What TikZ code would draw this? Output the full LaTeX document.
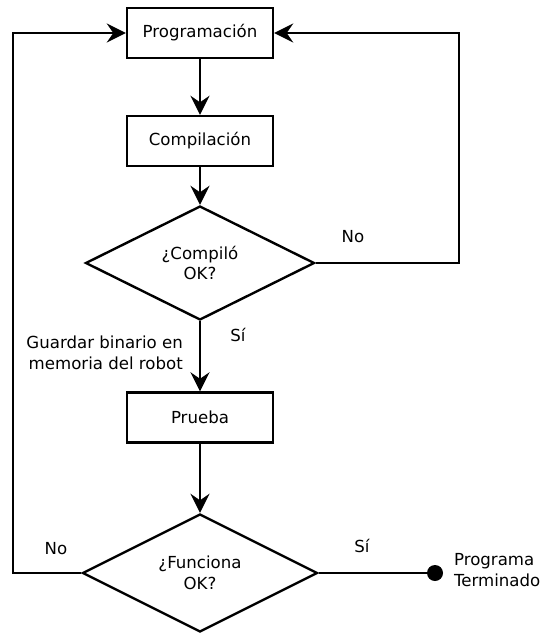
\documentclass[tikz,border=0pt]{standalone}
\usepackage{fontspec}
\setmainfont{DejaVu Sans}
\usetikzlibrary{shapes.geometric,arrows.meta}
\begin{document}
\begin{tikzpicture}[x=1pt,y=-1pt,
  every node/.style={font=\fontsize{16.6}{20.5}\selectfont},
  procbox/.style={draw,line width=2.4pt,fill=white,minimum width=146pt,minimum height=50pt,inner sep=0pt},
  decbox/.style={draw,line width=2.4pt,fill=white,diamond,inner sep=0pt,align=center},
  arr/.style={line width=2.4pt,-{Stealth[length=19pt,width=19pt,inset=6.5pt]}},
  ln/.style={line width=2.4pt},
  lbl/.style={inner sep=0pt},
  enddot/.style={circle,fill=black,minimum size=16pt,inner sep=0pt}
]
\useasboundingbox[fill=white] (0,0) rectangle (541,635);
\node[procbox] (prog) at (200,33) {Programación};
\node[procbox] (comp) at (200,141) {Compilación};
\node[decbox,minimum width=229pt,minimum height=114pt] (d1) at (200,263) {¿Compiló\\OK?};
\node[procbox] (prueba) at (200,417.5) {Prueba};
\node[decbox,minimum width=235pt,minimum height=118pt] (d2) at (200,573) {¿Funciona\\OK?};
\node[enddot] (fin) at (435,573) {};
\node[lbl,anchor=east,align=left] (fintext) at (540.5,570) {Programa\\Terminado};

\coordinate (r1) at (459,263);
\coordinate (l1) at (13,573);

\draw[arr] (prog) -- (comp);
\draw[arr] (comp) -- (d1);
\draw[arr] (d1.south) -- (prueba);
\draw[arr] (prueba) -- (d2);
\draw[arr] (d1.east) -- (r1) |- (prog.east);
\draw[arr] (d2.west) -- (l1) |- (prog.west);
\draw[ln] (d2.east) -- (fin);

\node[lbl] (no1) at (353,237) {No};
\node[lbl] (si1) at (238,335) {Sí};
\node[lbl,anchor=east,align=right] (guardar) at (183,353) {Guardar binario en\\memoria del robot};
\node[lbl] (no2) at (56,549) {No};
\node[lbl] (si2) at (362,546) {Sí};
\end{tikzpicture}
\end{document}
